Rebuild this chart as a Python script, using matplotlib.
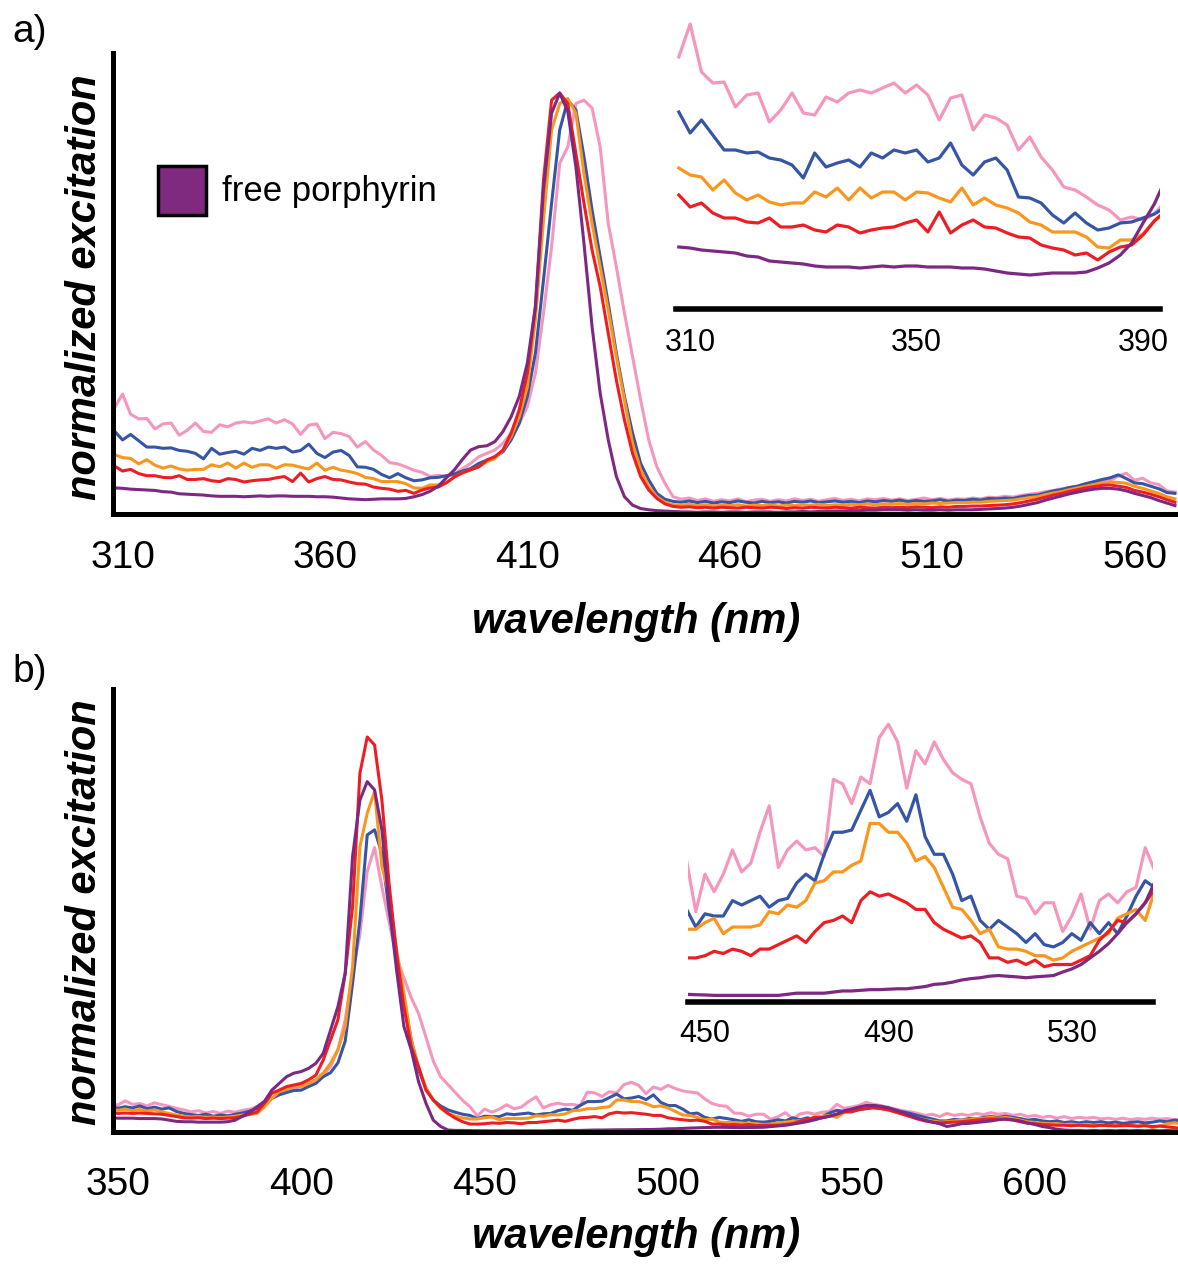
import numpy as np
import matplotlib
matplotlib.use("Agg")
import matplotlib.pyplot as plt
from matplotlib.patches import Rectangle

plt.rcParams['font.family'] = ['Liberation Sans', 'DejaVu Sans']

W, H = 1178, 1276

# ---------------- panel a: 308-570 nm, step 2 ----------------
wl_a = np.arange(308, 571, 2)

pink_a = [0.252, 0.285, 0.237, 0.226, 0.227, 0.202, 0.214, 0.216, 0.187, 0.199,
          0.216, 0.196, 0.194, 0.212, 0.207, 0.216, 0.219, 0.216, 0.221, 0.226,
          0.216, 0.224, 0.214, 0.189, 0.211, 0.214, 0.179, 0.194, 0.191, 0.184,
          0.159, 0.172, 0.152, 0.139, 0.122, 0.119, 0.112, 0.104, 0.099, 0.089,
          0.092, 0.089, 0.095, 0.108, 0.120, 0.136, 0.144, 0.152, 0.168, 0.192,
          0.215, 0.255, 0.334, 0.477, 0.635, 0.833, 0.872, 0.975, 0.983, 0.964,
          0.872, 0.690, 0.587, 0.477, 0.374, 0.271, 0.176, 0.112, 0.073, 0.041,
          0.035, 0.038, 0.032, 0.036, 0.030, 0.034, 0.031, 0.036, 0.029, 0.033,
          0.035, 0.030, 0.034, 0.031, 0.036, 0.032, 0.035, 0.030, 0.034, 0.037,
          0.032, 0.035, 0.031, 0.036, 0.034, 0.037, 0.033, 0.036, 0.032, 0.035,
          0.038, 0.034, 0.037, 0.033, 0.036, 0.035, 0.038, 0.036, 0.040, 0.039,
          0.042, 0.040, 0.044, 0.047, 0.049, 0.053, 0.056, 0.060, 0.063, 0.067,
          0.072, 0.075, 0.078, 0.080, 0.090, 0.097, 0.080, 0.085, 0.074, 0.070,
          0.055, 0.052]

blue_a = [0.197, 0.176, 0.189, 0.174, 0.159, 0.159, 0.156, 0.157, 0.151, 0.149,
          0.144, 0.131, 0.156, 0.142, 0.146, 0.149, 0.142, 0.156, 0.151, 0.159,
          0.156, 0.159, 0.147, 0.151, 0.166, 0.144, 0.134, 0.147, 0.151, 0.139,
          0.112, 0.111, 0.106, 0.094, 0.086, 0.096, 0.086, 0.079, 0.081, 0.086,
          0.087, 0.091, 0.095, 0.102, 0.108, 0.120, 0.128, 0.136, 0.148, 0.176,
          0.215, 0.279, 0.382, 0.556, 0.738, 0.912, 0.983, 0.960, 0.849, 0.722,
          0.611, 0.500, 0.382, 0.279, 0.192, 0.120, 0.081, 0.049, 0.035, 0.030,
          0.028, 0.031, 0.027, 0.030, 0.026, 0.029, 0.027, 0.031, 0.028, 0.026,
          0.030, 0.027, 0.029, 0.026, 0.030, 0.028, 0.031, 0.027, 0.029, 0.031,
          0.028, 0.030, 0.027, 0.031, 0.029, 0.032, 0.030, 0.033, 0.029, 0.032,
          0.030, 0.031, 0.034, 0.030, 0.033, 0.032, 0.035, 0.033, 0.037, 0.036,
          0.038, 0.037, 0.041, 0.044, 0.045, 0.050, 0.055, 0.058, 0.063, 0.066,
          0.072, 0.077, 0.082, 0.086, 0.093, 0.084, 0.074, 0.072, 0.066, 0.060,
          0.051, 0.049]

orange_a = [0.141, 0.134, 0.132, 0.119, 0.129, 0.116, 0.109, 0.114, 0.107, 0.104,
            0.106, 0.106, 0.117, 0.112, 0.121, 0.109, 0.121, 0.111, 0.117, 0.117,
            0.109, 0.117, 0.116, 0.111, 0.107, 0.121, 0.104, 0.111, 0.104, 0.101,
            0.096, 0.087, 0.084, 0.077, 0.077, 0.077, 0.072, 0.062, 0.061, 0.069,
            0.069, 0.075, 0.088, 0.098, 0.105, 0.112, 0.124, 0.132, 0.152, 0.184,
            0.231, 0.302, 0.461, 0.698, 0.912, 0.975, 0.987, 0.952, 0.809, 0.690,
            0.587, 0.485, 0.374, 0.271, 0.168, 0.105, 0.065, 0.041, 0.028, 0.022,
            0.021, 0.023, 0.020, 0.022, 0.019, 0.021, 0.020, 0.022, 0.019, 0.021,
            0.020, 0.022, 0.019, 0.021, 0.020, 0.022, 0.021, 0.023, 0.020, 0.022,
            0.021, 0.023, 0.022, 0.024, 0.022, 0.024, 0.023, 0.025, 0.023, 0.025,
            0.024, 0.026, 0.025, 0.026, 0.027, 0.027, 0.028, 0.028, 0.030, 0.031,
            0.032, 0.033, 0.036, 0.039, 0.041, 0.046, 0.050, 0.053, 0.058, 0.062,
            0.066, 0.070, 0.073, 0.076, 0.075, 0.073, 0.066, 0.061, 0.055, 0.049,
            0.041, 0.036]

red_a = [0.114, 0.102, 0.106, 0.096, 0.091, 0.091, 0.087, 0.086, 0.091, 0.082,
         0.082, 0.084, 0.079, 0.077, 0.084, 0.082, 0.076, 0.079, 0.081, 0.082,
         0.086, 0.089, 0.077, 0.097, 0.076, 0.084, 0.089, 0.082, 0.081, 0.076,
         0.072, 0.071, 0.064, 0.061, 0.059, 0.054, 0.056, 0.049, 0.057, 0.062,
         0.064, 0.074, 0.088, 0.098, 0.105, 0.112, 0.128, 0.136, 0.152, 0.192,
         0.247, 0.334, 0.492, 0.793, 0.983, 1.000, 0.975, 0.857, 0.738, 0.627,
         0.540, 0.429, 0.318, 0.223, 0.144, 0.089, 0.057, 0.037, 0.024, 0.018,
         0.016, 0.017, 0.015, 0.016, 0.014, 0.016, 0.015, 0.014, 0.016, 0.015,
         0.014, 0.016, 0.015, 0.013, 0.015, 0.014, 0.016, 0.015, 0.014, 0.016,
         0.015, 0.014, 0.016, 0.015, 0.014, 0.016, 0.015, 0.016, 0.015, 0.017,
         0.016, 0.015, 0.017, 0.016, 0.018, 0.018, 0.019, 0.019, 0.020, 0.021,
         0.022, 0.024, 0.027, 0.031, 0.035, 0.040, 0.045, 0.049, 0.054, 0.058,
         0.062, 0.065, 0.068, 0.069, 0.066, 0.063, 0.056, 0.052, 0.047, 0.041,
         0.034, 0.028]

purple_a = [0.062, 0.061, 0.059, 0.058, 0.057, 0.056, 0.053, 0.052, 0.048, 0.047,
            0.046, 0.045, 0.043, 0.042, 0.042, 0.042, 0.041, 0.042, 0.043, 0.042,
            0.043, 0.043, 0.042, 0.042, 0.042, 0.041, 0.041, 0.040, 0.038, 0.036,
            0.035, 0.034, 0.035, 0.036, 0.036, 0.036, 0.037, 0.041, 0.046, 0.054,
            0.066, 0.086, 0.105, 0.130, 0.152, 0.160, 0.162, 0.172, 0.196, 0.231,
            0.279, 0.358, 0.492, 0.770, 0.952, 1.000, 0.956, 0.825, 0.643, 0.445,
            0.287, 0.176, 0.089, 0.041, 0.021, 0.013, 0.010, 0.008, 0.007, 0.006,
            0.005, 0.005, 0.004, 0.005, 0.005, 0.004, 0.005, 0.005, 0.004, 0.005,
            0.005, 0.005, 0.004, 0.005, 0.005, 0.006, 0.005, 0.006, 0.006, 0.007,
            0.007, 0.008, 0.008, 0.009, 0.009, 0.010, 0.010, 0.010, 0.009, 0.010,
            0.009, 0.009, 0.010, 0.009, 0.010, 0.010, 0.010, 0.011, 0.012, 0.013,
            0.014, 0.016, 0.019, 0.023, 0.027, 0.033, 0.038, 0.043, 0.048, 0.052,
            0.056, 0.059, 0.061, 0.061, 0.059, 0.055, 0.049, 0.044, 0.039, 0.032,
            0.026, 0.020]

# ---------------- panel b: 348-640 nm, step 2 ----------------
wl_b = np.arange(348, 641, 2)

pink_b = [0.074, 0.068, 0.079, 0.070, 0.072, 0.066, 0.074, 0.069, 0.065, 0.060,
          0.056, 0.051, 0.054, 0.048, 0.052, 0.047, 0.053, 0.050, 0.055, 0.058,
          0.064, 0.073, 0.085, 0.098, 0.105, 0.111, 0.115, 0.123, 0.132, 0.144,
          0.165, 0.208, 0.284, 0.402, 0.500, 0.660, 0.720, 0.620, 0.530, 0.440,
          0.390, 0.340, 0.300, 0.240, 0.180, 0.140, 0.120, 0.100, 0.080, 0.064,
          0.041, 0.058, 0.050, 0.058, 0.069, 0.059, 0.063, 0.077, 0.089, 0.061,
          0.069, 0.073, 0.069, 0.070, 0.066, 0.101, 0.099, 0.090, 0.102, 0.099,
          0.120, 0.126, 0.118, 0.097, 0.114, 0.108, 0.118, 0.110, 0.104, 0.101,
          0.099, 0.084, 0.072, 0.067, 0.065, 0.048, 0.047, 0.040, 0.045, 0.045,
          0.032, 0.039, 0.049, 0.033, 0.046, 0.049, 0.045, 0.050, 0.052, 0.070,
          0.060, 0.063, 0.067, 0.075, 0.070, 0.067, 0.063, 0.058, 0.054, 0.051,
          0.047, 0.042, 0.045, 0.039, 0.047, 0.042, 0.045, 0.042, 0.047, 0.044,
          0.049, 0.045, 0.047, 0.042, 0.045, 0.039, 0.042, 0.037, 0.040, 0.035,
          0.039, 0.034, 0.037, 0.035, 0.037, 0.033, 0.035, 0.032, 0.035, 0.031,
          0.034, 0.032, 0.035, 0.032, 0.034, 0.031, 0.033]

blue_b = [0.066, 0.060, 0.064, 0.061, 0.066, 0.059, 0.063, 0.058, 0.061, 0.052,
          0.047, 0.044, 0.042, 0.045, 0.040, 0.043, 0.041, 0.045, 0.048, 0.053,
          0.060, 0.073, 0.085, 0.094, 0.100, 0.105, 0.106, 0.115, 0.123, 0.140,
          0.150, 0.175, 0.230, 0.376, 0.537, 0.752, 0.765, 0.705, 0.558, 0.452,
          0.334, 0.233, 0.157, 0.111, 0.081, 0.066, 0.056, 0.050, 0.045, 0.042,
          0.034, 0.040, 0.039, 0.039, 0.046, 0.044, 0.046, 0.048, 0.043, 0.046,
          0.047, 0.054, 0.058, 0.055, 0.067, 0.077, 0.077, 0.078, 0.087, 0.096,
          0.084, 0.086, 0.090, 0.082, 0.094, 0.075, 0.067, 0.067, 0.058, 0.046,
          0.048, 0.037, 0.033, 0.037, 0.034, 0.031, 0.027, 0.031, 0.026, 0.025,
          0.027, 0.031, 0.028, 0.036, 0.031, 0.036, 0.031, 0.039, 0.048, 0.055,
          0.052, 0.056, 0.061, 0.065, 0.067, 0.063, 0.061, 0.054, 0.051, 0.047,
          0.042, 0.037, 0.033, 0.028, 0.028, 0.032, 0.030, 0.034, 0.033, 0.037,
          0.039, 0.037, 0.040, 0.037, 0.034, 0.030, 0.032, 0.028, 0.026, 0.028,
          0.024, 0.026, 0.023, 0.026, 0.024, 0.026, 0.023, 0.025, 0.022, 0.024,
          0.026, 0.023, 0.025, 0.028, 0.026, 0.030, 0.028]

orange_b = [0.057, 0.055, 0.058, 0.054, 0.057, 0.053, 0.056, 0.051, 0.047, 0.043,
            0.040, 0.038, 0.039, 0.037, 0.038, 0.036, 0.038, 0.040, 0.043, 0.045,
            0.047, 0.064, 0.085, 0.102, 0.108, 0.115, 0.116, 0.123, 0.132, 0.149,
            0.174, 0.208, 0.267, 0.419, 0.722, 0.807, 0.862, 0.672, 0.600, 0.461,
            0.351, 0.233, 0.165, 0.111, 0.081, 0.060, 0.047, 0.040, 0.036, 0.033,
            0.033, 0.036, 0.038, 0.031, 0.034, 0.034, 0.034, 0.035, 0.041, 0.040,
            0.044, 0.043, 0.046, 0.054, 0.055, 0.059, 0.059, 0.062, 0.064, 0.081,
            0.081, 0.077, 0.077, 0.072, 0.064, 0.066, 0.061, 0.052, 0.043, 0.042,
            0.037, 0.031, 0.033, 0.025, 0.024, 0.024, 0.023, 0.021, 0.021, 0.019,
            0.020, 0.023, 0.025, 0.027, 0.029, 0.031, 0.038, 0.040, 0.042, 0.037,
            0.050, 0.053, 0.058, 0.061, 0.062, 0.060, 0.056, 0.050, 0.045, 0.040,
            0.035, 0.031, 0.028, 0.025, 0.026, 0.028, 0.030, 0.031, 0.033, 0.035,
            0.037, 0.035, 0.037, 0.034, 0.030, 0.026, 0.024, 0.022, 0.021, 0.021,
            0.019, 0.020, 0.018, 0.019, 0.017, 0.018, 0.016, 0.017, 0.015, 0.017,
            0.014, 0.017, 0.011, 0.015, 0.021, 0.023, 0.021]

red_b = [0.048, 0.047, 0.048, 0.047, 0.048, 0.047, 0.046, 0.045, 0.042, 0.039,
         0.036, 0.035, 0.036, 0.034, 0.035, 0.034, 0.035, 0.036, 0.040, 0.045,
         0.051, 0.073, 0.098, 0.106, 0.115, 0.119, 0.123, 0.132, 0.144, 0.182,
         0.233, 0.284, 0.402, 0.570, 0.908, 1.000, 0.980, 0.840, 0.625, 0.452,
         0.317, 0.216, 0.165, 0.106, 0.081, 0.062, 0.047, 0.035, 0.026, 0.020,
         0.020, 0.021, 0.023, 0.022, 0.024, 0.023, 0.021, 0.024, 0.024, 0.026,
         0.028, 0.030, 0.027, 0.032, 0.036, 0.037, 0.039, 0.036, 0.046, 0.050,
         0.048, 0.049, 0.047, 0.045, 0.042, 0.042, 0.036, 0.033, 0.031, 0.029,
         0.030, 0.027, 0.020, 0.020, 0.018, 0.019, 0.017, 0.019, 0.016, 0.017,
         0.017, 0.017, 0.019, 0.021, 0.028, 0.032, 0.037, 0.036, 0.040, 0.045,
         0.051, 0.051, 0.056, 0.059, 0.061, 0.059, 0.056, 0.051, 0.045, 0.039,
         0.033, 0.028, 0.025, 0.023, 0.024, 0.025, 0.026, 0.028, 0.030, 0.032,
         0.033, 0.033, 0.032, 0.030, 0.026, 0.022, 0.021, 0.019, 0.018, 0.017,
         0.017, 0.016, 0.017, 0.016, 0.015, 0.017, 0.016, 0.015, 0.017, 0.016,
         0.015, 0.016, 0.014, 0.015, 0.013, 0.011, 0.009]

purple_b = [0.036, 0.035, 0.035, 0.035, 0.034, 0.034, 0.034, 0.033, 0.030, 0.027,
            0.026, 0.026, 0.025, 0.025, 0.025, 0.025, 0.026, 0.030, 0.040, 0.050,
            0.064, 0.078, 0.106, 0.123, 0.140, 0.149, 0.153, 0.161, 0.174, 0.199,
            0.258, 0.317, 0.402, 0.697, 0.840, 0.887, 0.866, 0.765, 0.570, 0.410,
            0.267, 0.208, 0.127, 0.073, 0.030, 0.014, 0.005, 0.004, 0.004, 0.0035,
            0.0033, 0.0032, 0.003, 0.003, 0.003, 0.003, 0.003, 0.003, 0.003, 0.003,
            0.0035, 0.004, 0.004, 0.004, 0.004, 0.0045, 0.005, 0.005, 0.0053, 0.0056,
            0.0056, 0.0058, 0.006, 0.006, 0.0065, 0.007, 0.008, 0.0083, 0.009, 0.010,
            0.0106, 0.011, 0.0117, 0.012, 0.0117, 0.0114, 0.011, 0.0114, 0.0117, 0.012,
            0.0136, 0.015, 0.017, 0.020, 0.023, 0.0265, 0.031, 0.036, 0.040, 0.045,
            0.054, 0.058, 0.063, 0.067, 0.067, 0.065, 0.061, 0.056, 0.049, 0.042,
            0.035, 0.030, 0.025, 0.021, 0.014, 0.017, 0.021, 0.022, 0.024, 0.026,
            0.028, 0.031, 0.033, 0.031, 0.028, 0.023, 0.019, 0.014, 0.011, 0.007,
            0.005, 0.004, 0.004, 0.003, 0.004, 0.003, 0.004, 0.003, 0.004, 0.003,
            0.004, 0.003, 0.004, 0.003, 0.004, 0.003, 0.003]

colors = ['#F596BE', '#3755A5', '#F9961E', '#EC1E24', '#7D2882']
series_a = [pink_a, blue_a, orange_a, red_a, purple_a]
series_b = [pink_b, blue_b, orange_b, red_b, purple_b]

ticks_a = [310, 360, 410, 460, 510, 560]
ticks_b = [350, 400, 450, 500, 550, 600]
inset_ticks_a = [310, 350, 390]
inset_ticks_b = [450, 490, 530]


def px_axes(fig, left, top, right, bottom):
    # axes placed by pixel edges (origin top-left)
    return fig.add_axes([left / W, 1 - bottom / H, (right - left) / W, (bottom - top) / H])


def style_main(ax, ticks, pad):
    for s in ['top', 'right']:
        ax.spines[s].set_visible(False)
    for s in ['left', 'bottom']:
        ax.spines[s].set_linewidth(3.6)
    ax.set_yticks([])
    ax.set_xticks(ticks)
    ax.tick_params(axis='x', length=0, pad=pad, labelsize=28)


def style_inset(ax, ticks, pad):
    ax.set_facecolor('none')
    for s in ['top', 'right', 'left']:
        ax.spines[s].set_visible(False)
    ax.spines['bottom'].set_linewidth(4)
    ax.set_yticks([])
    ax.set_xticks(ticks)
    ax.tick_params(axis='x', length=0, pad=pad, labelsize=22)


fig = plt.figure(figsize=(W / 100, H / 100), dpi=100)

# panel a
ax_a = px_axes(fig, 113, 53, 1178, 514)
for vals, c in zip(series_a, colors):
    ax_a.plot(wl_a, vals, color=c, lw=2.2)
ax_a.set_xlim(307.65, 570.75)
ax_a.set_ylim(0, 1.095)
style_main(ax_a, ticks_a, 19)

ins_a = px_axes(fig, 676, 15, 1160, 309)
for vals, c in zip(series_a, colors):
    ins_a.plot(wl_a, vals, color=c, lw=2.3)
ins_a.set_xlim(307.5, 393.0)
ins_a.set_ylim(0, 0.294)
style_inset(ins_a, inset_ticks_a, 14)

# panel b
ax_b = px_axes(fig, 113, 689, 1178, 1132)
for vals, c in zip(series_b, colors):
    ax_b.plot(wl_b, vals, color=c, lw=2.2)
ax_b.set_xlim(348.7, 639.0)
ax_b.set_ylim(0, 1.1215)
style_main(ax_b, ticks_b, 25)

ins_b = px_axes(fig, 688, 700, 1153, 1002)
for vals, c in zip(series_b, colors):
    ins_b.plot(wl_b, vals, color=c, lw=2.3)
ins_b.set_xlim(446.3, 547.7)
ins_b.set_ylim(0, 0.137)
style_inset(ins_b, inset_ticks_b, 12)

# labels
lab = dict(fontsize=30, fontweight='bold', fontstyle='italic', ha='center', va='center')
fig.text(636 / W, 1 - 622 / H, 'wavelength (nm)', **lab)
fig.text(636 / W, 1 - 1237 / H, 'wavelength (nm)', **lab)
fig.text(85 / W, 1 - 287 / H, 'normalized excitation', rotation=90, **lab)
fig.text(85 / W, 1 - 912 / H, 'normalized excitation', rotation=90, **lab)
fig.text(12 / W, 1 - 32 / H, 'a)', fontsize=28, ha='left', va='center')
fig.text(12 / W, 1 - 672 / H, 'b)', fontsize=28, ha='left', va='center')

# legend key
fig.patches.append(Rectangle((158 / W, 1 - 215 / H), 48 / W, 49 / H,
                             transform=fig.transFigure, facecolor='#7F2A7F',
                             edgecolor='black', lw=2.5))
fig.text(222 / W, 1 - 192 / H, 'free porphyrin', fontsize=25, ha='left', va='center')

fig.savefig('out.png', dpi=100)
